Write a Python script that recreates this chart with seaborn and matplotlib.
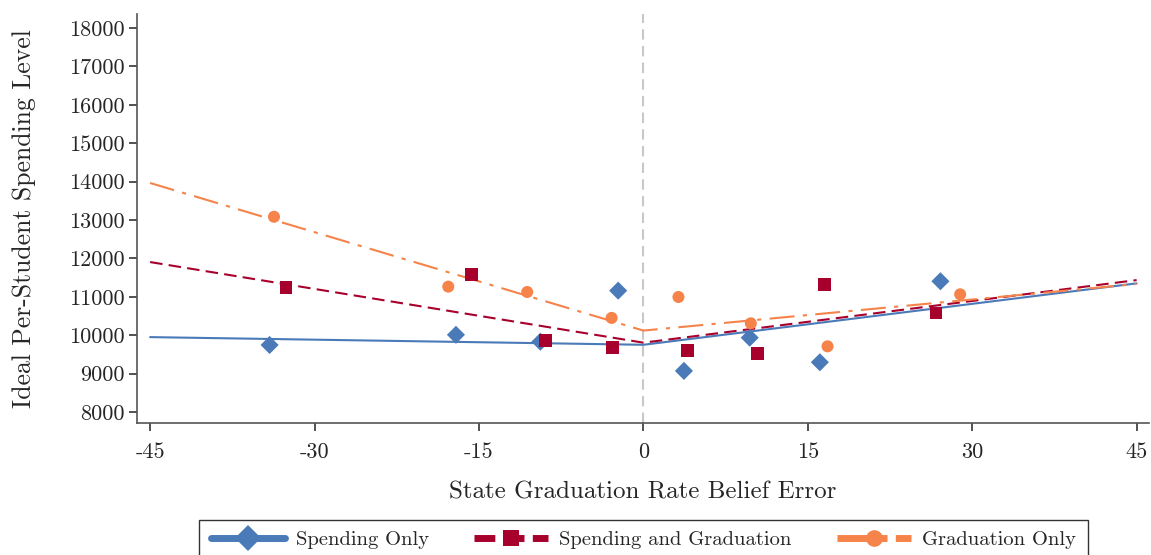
import matplotlib
matplotlib.use("Agg")
import matplotlib.pyplot as plt
import seaborn as sns
import pandas as pd
from matplotlib.lines import Line2D

# Binned means of ideal per-student spending by belief error, per treatment arm
spend_x = [-34.1, -17.1, -9.4, -2.3, 3.7, 9.7, 16.1, 27.1]
spend_y = [9745, 10010, 9830, 11160, 9070, 9935, 9295, 11405]

both_x = [-32.6, -15.7, -8.9, -2.8, 4.0, 10.4, 16.5, 26.7]
both_y = [11235, 11575, 9855, 9675, 9595, 9520, 11315, 10580]

grad_x = [-33.7, -17.8, -10.6, -2.9, 3.2, 9.8, 16.8, 28.9]
grad_y = [13085, 11265, 11125, 10450, 10995, 10310, 9710, 11065]

# Piecewise-linear fits with a kink at zero belief error
fit_x = [-45, 0, 45]
spend_fit = [9950, 9750, 11350]
both_fit = [11905, 9805, 11435]
grad_fit = [13965, 10120, 11335]

series = ["Spending Only", "Spending and Graduation", "Graduation Only"]
x_ticks = [-45, -30, -15, 0, 15, 30, 45]
x_tick_labels = ["-45", "-30", "-15", "0", "15", "30", "45"]
y_ticks = list(range(8000, 18001, 1000))

colors = {"Spending Only": "#4a7ab8",
          "Spending and Graduation": "#a8002c",
          "Graduation Only": "#f5834a"}
markers = {"Spending Only": "D",
           "Spending and Graduation": "s",
           "Graduation Only": "o"}
marker_sizes = {"Spending Only": 85,
                "Spending and Graduation": 85,
                "Graduation Only": 75}
linestyles = {"Spending Only": "-",
              "Spending and Graduation": (0, (6, 3)),
              "Graduation Only": (0, (12, 4, 2, 4))}

points = pd.concat([
    pd.DataFrame({"x": spend_x, "y": spend_y, "arm": series[0]}),
    pd.DataFrame({"x": both_x, "y": both_y, "arm": series[1]}),
    pd.DataFrame({"x": grad_x, "y": grad_y, "arm": series[2]}),
])
fits = pd.concat([
    pd.DataFrame({"x": fit_x, "y": spend_fit, "arm": series[0]}),
    pd.DataFrame({"x": fit_x, "y": both_fit, "arm": series[1]}),
    pd.DataFrame({"x": fit_x, "y": grad_fit, "arm": series[2]}),
])

sns.set_theme(style="ticks")
plt.rcParams["font.family"] = ["cmr10"]
plt.rcParams["mathtext.fontset"] = "cm"
plt.rcParams["axes.formatter.use_mathtext"] = True
plt.rcParams["axes.unicode_minus"] = False

fig = plt.figure(figsize=(11.51, 5.55), dpi=100)
ax = fig.add_axes([0.119, 0.238, 0.879, 0.737])

ax.axvline(0, color="#c8c8c8", lw=1.5, ls=(0, (5, 3)), zorder=1)

for arm in series:
    sub = fits[fits["arm"] == arm]
    sns.lineplot(data=sub, x="x", y="y", ax=ax, color=colors[arm],
                 lw=1.5, linestyle=linestyles[arm], legend=False,
                 sort=False, zorder=2)
    subp = points[points["arm"] == arm]
    sns.scatterplot(data=subp, x="x", y="y", ax=ax, color=colors[arm],
                    marker=markers[arm], s=marker_sizes[arm],
                    edgecolor="none", legend=False, zorder=3)

ax.set_xlim(-46.2, 46.1)
ax.set_ylim(7715, 18370)
ax.set_xticks(x_ticks)
ax.set_xticklabels(x_tick_labels)
ax.set_yticks(y_ticks)
ax.set_yticklabels([str(v) for v in y_ticks])

ax.set_xlabel("State Graduation Rate Belief Error", fontsize=18, labelpad=14)
ax.set_ylabel("Ideal Per-Student Spending Level", fontsize=18.5, labelpad=24)
ax.tick_params(axis="both", labelsize=16, direction="out", length=6,
               width=1.2, color="#333333")
ax.tick_params(axis="x", pad=8)
ax.tick_params(axis="y", pad=3)

sns.despine(ax=ax)
for side in ("left", "bottom"):
    ax.spines[side].set_color("#555555")
    ax.spines[side].set_linewidth(1.2)

handles = [
    Line2D([], [], color=colors[a], lw=5, linestyle=linestyles[a],
           marker=markers[a], markersize=13 if a == series[0] else 12,
           markeredgewidth=0)
    for a in series
]
handles[1].set_linestyle((0, (3, 1.2)))
handles[2].set_linestyle((0, (5, 1.2, 1, 1.2)))
leg = fig.legend(handles, series, loc="upper center", ncol=3,
                 bbox_to_anchor=(0.559, 0.082), frameon=True, fancybox=False,
                 edgecolor="black", fontsize=14.8, handlelength=3.6,
                 columnspacing=2.2, borderpad=0.55, handletextpad=0.55)
leg.get_frame().set_linewidth(1.0)

fig.savefig("out.png", dpi=100)
